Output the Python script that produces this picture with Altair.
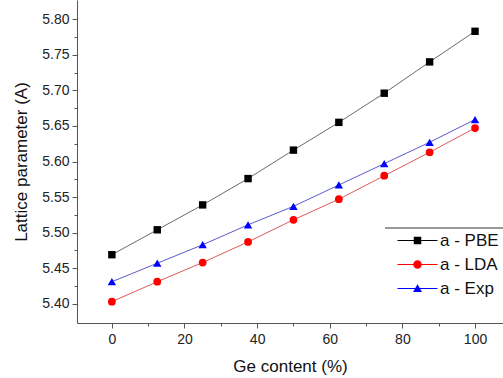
import altair as alt
import pandas as pd

ge = [0, 12.5, 25, 37.5, 50, 62.5, 75, 87.5, 100]
pbe = [5.469, 5.504, 5.539, 5.576, 5.616, 5.655, 5.696, 5.740, 5.783]
lda = [5.403, 5.431, 5.458, 5.487, 5.518, 5.547, 5.580, 5.613, 5.647]
exp = [5.431, 5.457, 5.483, 5.511, 5.537, 5.567, 5.597, 5.627, 5.659]
series = ["a - PBE", "a - LDA", "a - Exp"]
marker_colors = ["#000000", "#ff0000", "#0000ff"]
line_colors = ["#444444", "#d03030", "#3030c0"]
marks = ["square", "circle", "triangle-up"]
sizes = [55, 60, 70]

rows = []
for name, vals in zip(series, [pbe, lda, exp]):
    for g, v in zip(ge, vals):
        rows.append({"Ge": g, "a": v, "Series": name})
df = pd.DataFrame(rows)

FONT = "Liberation Sans"
xscale = alt.Scale(domain=[-9.6, 107.7], nice=False, zero=False)
yscale = alt.Scale(domain=[5.373, 5.827], nice=False, zero=False)

xticks = list(range(0, 101, 10))
yticks = [round(5.40 + 0.025 * i, 3) for i in range(17)]

xaxis = alt.Axis(
    title="Ge content (%)", values=xticks, grid=False,
    labelExpr="datum.value % 20 == 0 ? datum.value : ''",
    tickSize={"condition": {"test": "datum.value % 20 == 0", "value": 5}, "value": 3},
    labelFontSize=14, titleFontSize=17, labelFont=FONT, titleFont=FONT,
    labelColor="#222222", titleColor="#111111", titleFontWeight="normal",
    domainColor="#555555", tickColor="#555555", labelPadding=4, titlePadding=12,
)
yaxis = alt.Axis(
    title="Lattice parameter (A)", values=yticks, grid=False,
    labelExpr="abs(datum.value*20 - round(datum.value*20)) < 0.001 ? format(datum.value, '.2f') : ''",
    tickSize={"condition": {"test": "abs(datum.value*20 - round(datum.value*20)) < 0.001", "value": 5}, "value": 3},
    labelFontSize=14, titleFontSize=17, labelFont=FONT, titleFont=FONT,
    labelColor="#222222", titleColor="#111111", titleFontWeight="normal",
    domainColor="#555555", tickColor="#555555", labelPadding=3, titlePadding=11,
)

X = alt.X("Ge:Q", scale=xscale, axis=xaxis)
Y = alt.Y("a:Q", scale=yscale, axis=yaxis)

base = alt.Chart(df)
layers = []
for i, name in enumerate(series):
    sub = base.transform_filter(alt.datum.Series == name)
    layers.append(sub.mark_line(color=line_colors[i], strokeWidth=0.8).encode(x=X, y=Y))
for i, name in enumerate(series):
    sub = base.transform_filter(alt.datum.Series == name)
    layers.append(sub.mark_point(shape=marks[i], filled=True, opacity=1,
                                 color=marker_colors[i], size=sizes[i]).encode(x=X, y=Y))

# legend symbols: line segment + marker
seg = "M-4,-0.1H4V0.1H-4Z"
paths = [
    seg + "M-0.75,-0.75H0.75V0.75H-0.75Z",
    seg + "M0.85,0A0.85,0.85,0,1,1,-0.85,0A0.85,0.85,0,1,1,0.85,0Z",
    seg + "M0,-0.85L0.9,0.7L-0.9,0.7Z",
]
legend_layer = base.mark_point(filled=True, size=0, opacity=1).encode(
    x=X, y=Y,
    color=alt.Color("Series:N", scale=alt.Scale(domain=series, range=marker_colors),
                    legend=alt.Legend(title=None, orient="none", legendX=332, legendY=232,
                                      symbolSize=100, symbolOpacity=1, symbolStrokeWidth=0,
                                      labelFontSize=17, labelFont=FONT, labelColor="#111111",
                                      labelOffset=14, rowPadding=6, padding=0)),
    shape=alt.Shape("Series:N", scale=alt.Scale(domain=series, range=paths)),
)
layers.append(legend_layer)

frame_line = alt.Chart(pd.DataFrame({"k": [0]})).mark_rule(color="#333333", strokeWidth=1).encode(
    x=alt.value(308), x2=alt.value(426), y=alt.value(228)
)
layers.append(frame_line)

chart = alt.layer(*layers).properties(
    width=426, height=323,
    autosize=alt.AutoSizeParams(type="none"),
    padding={"left": 77, "top": 0, "right": 0, "bottom": 55},
).configure_view(stroke=None).configure_axis(domainWidth=1)

chart.save("out.html", embed_options={"renderer": "svg", "actions": False})
